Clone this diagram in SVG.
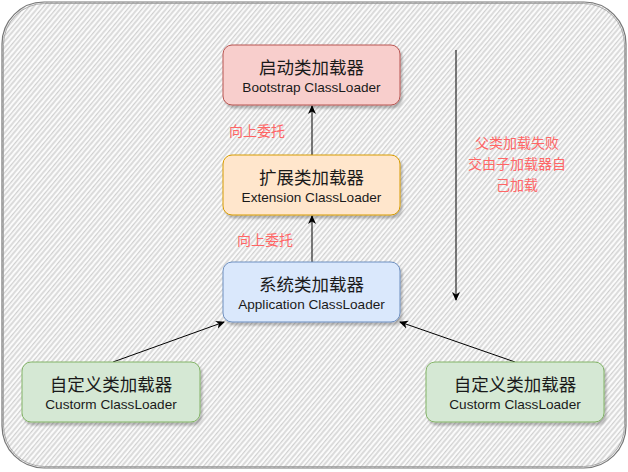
<svg xmlns="http://www.w3.org/2000/svg" width="628" height="472" viewBox="0 0 628 472">
<style>
.t1{font-family:"Noto Sans CJK SC","Liberation Sans",sans-serif;font-size:17.5px;fill:#1a1a1a;text-anchor:middle}
.t2{font-family:"Liberation Sans",Arial,sans-serif;font-size:13.6px;fill:#1a1a1a;text-anchor:middle}
.lbl{font-family:"Noto Sans CJK SC","Liberation Sans",sans-serif;font-size:14px;fill:#FF6666;text-anchor:middle}
.edge{stroke:#000;stroke-width:1;fill:none}
</style>
<defs>
<pattern id="hatch" patternUnits="userSpaceOnUse" width="40" height="11" patternTransform="rotate(-50)">
<rect width="40" height="11" fill="#fbfbfb"/>
<line x1="0" y1="1" x2="40" y2="1" stroke="#b5b5b5" stroke-width="0.9"/>
<line x1="0" y1="4.6" x2="40" y2="4.6" stroke="#cfcfcf" stroke-width="1.1"/>
<line x1="0" y1="8" x2="40" y2="8" stroke="#a9a9a9" stroke-width="0.8"/>
</pattern>
<marker id="arr" markerWidth="10" markerHeight="10" refX="8" refY="5" orient="auto" markerUnits="userSpaceOnUse">
<path d="M0,1 L9,5 L0,9 L2.5,5 Z" fill="#000"/>
</marker>
<filter id="sh" x="-10%" y="-10%" width="130%" height="140%">
<feGaussianBlur in="SourceAlpha" stdDeviation="1"/>
<feOffset dx="2" dy="3"/>
<feComponentTransfer><feFuncA type="linear" slope="0.25"/></feComponentTransfer>
<feMerge><feMergeNode/><feMergeNode in="SourceGraphic"/></feMerge>
</filter>
</defs>
<g id="container">
<rect x="2" y="2" width="624" height="466" rx="42" ry="42" fill="url(#hatch)"/>
<rect x="2" y="2" width="624" height="466" rx="42" ry="42" fill="none" stroke="#777" stroke-width="1.2"/>
<rect x="3.5" y="3.5" width="621" height="463" rx="41" ry="41" fill="none" stroke="#999" stroke-width="0.8"/>
</g>
<g id="connectors">
<line class="edge" x1="312" y1="155" x2="312" y2="106" marker-end="url(#arr)"/>
<line class="edge" x1="312" y1="262" x2="312" y2="216" marker-end="url(#arr)"/>
<line class="edge" x1="113" y1="362" x2="224" y2="322" marker-end="url(#arr)"/>
<line class="edge" x1="515" y1="362" x2="400" y2="322" marker-end="url(#arr)"/>
<line class="edge" x1="456" y1="50" x2="456" y2="300" marker-end="url(#arr)"/>
</g>
<g id="bootstrap">
<rect x="223" y="45" width="177" height="60" rx="9" fill="#f8cecc" stroke="#b85450" filter="url(#sh)"/>
<text class="t1" x="311.5" y="74">启动类加载器</text>
<text class="t2" x="311.5" y="92">Bootstrap ClassLoader</text>
</g>
<g id="extension">
<rect x="223" y="155" width="177" height="60" rx="9" fill="#ffe6cc" stroke="#d79b00" filter="url(#sh)"/>
<text class="t1" x="311.5" y="184">扩展类加载器</text>
<text class="t2" x="311.5" y="202">Extension ClassLoader</text>
</g>
<g id="application">
<rect x="223" y="262" width="177" height="60" rx="9" fill="#dae8fc" stroke="#6c8ebf" filter="url(#sh)"/>
<text class="t1" x="311.5" y="291">系统类加载器</text>
<text class="t2" x="311.5" y="309">Application ClassLoader</text>
</g>
<g id="custom-left">
<rect x="22" y="362" width="178" height="60" rx="9" fill="#d5e8d4" stroke="#82b366" filter="url(#sh)"/>
<text class="t1" x="111" y="391">自定义类加载器</text>
<text class="t2" x="111" y="409">Custorm ClassLoader</text>
</g>
<g id="custom-right">
<rect x="426" y="362" width="178" height="60" rx="9" fill="#d5e8d4" stroke="#82b366" filter="url(#sh)"/>
<text class="t1" x="515" y="391">自定义类加载器</text>
<text class="t2" x="515" y="409">Custorm ClassLoader</text>
</g>
<g id="labels">
<text class="lbl" x="257" y="136">向上委托</text>
<text class="lbl" x="265" y="245">向上委托</text>
<text class="lbl" x="517" y="148">父类加载失败</text>
<text class="lbl" x="517" y="169">交由子加载器自</text>
<text class="lbl" x="517" y="190">己加载</text>
</g>
</svg>
